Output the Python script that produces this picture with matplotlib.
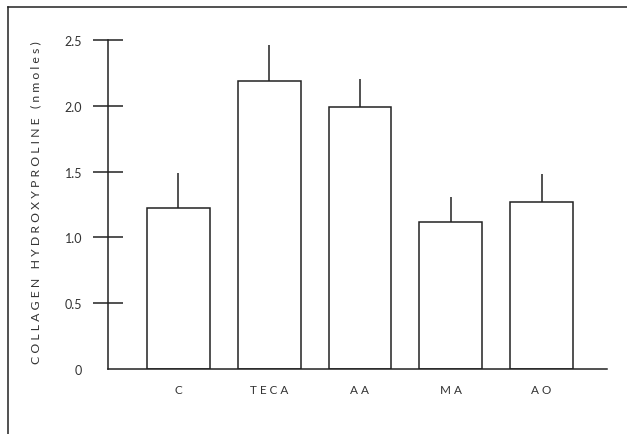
"""Collagen hydroxyproline bar chart with upper error bars."""
import matplotlib

matplotlib.use("Agg")
import matplotlib.pyplot as plt
from matplotlib.lines import Line2D
import numpy as np

groups = ["C", "TECA", "AA", "MA", "AO"]
means = [1.22, 2.19, 1.99, 1.12, 1.27]
errs = [0.27, 0.27, 0.21, 0.19, 0.21]
yticks = [0, 0.5, 1.0, 1.5, 2.0, 2.5]
ytick_labels = ["0", "0.5", "1.0", "1.5", "2.0", "2.5"]

INK = "#222222"
plt.rcParams["font.family"] = ["Lato", "DejaVu Sans"]


def spaced(s):
    return " ".join(s)


fig = plt.figure(figsize=(6.27, 4.35), dpi=100)
ax = fig.add_axes([108 / 627, 1 - 370 / 435, (607 - 108) / 627, (370 - 41) / 435])

x = np.arange(len(groups))
ax.bar(x, means, width=0.69, facecolor="white", edgecolor=INK, linewidth=1.1, zorder=2)
ax.errorbar(x, means, yerr=[np.zeros(len(errs)), errs], fmt="none",
            ecolor=INK, elinewidth=1.1, capsize=0, zorder=1)

ax.set_xlim(-0.775, 4.72)
ax.set_ylim(0, 2.5)
ax.set_yticks(yticks)
ax.set_yticklabels(ytick_labels, fontsize=9, color="#333333")
ax.set_xticks(x)
ax.set_xticklabels([spaced(g) for g in groups], fontsize=8.5, color="#333333")
ax.tick_params(axis="y", direction="inout", length=21, width=1.1, color=INK, pad=8)
ax.tick_params(axis="x", length=0, pad=11)
# no tick mark at zero, only the label
ax.yaxis.get_major_ticks()[0].tick1line.set_visible(False)

for side in ("top", "right"):
    ax.spines[side].set_visible(False)
for side in ("left", "bottom"):
    ax.spines[side].set_color(INK)
    ax.spines[side].set_linewidth(1.1)

ylabel = spaced("COLLAGEN") + "   " + spaced("HYDROXYPROLINE") + "   " + spaced("(nmoles)")
fig.text(36 / 627, 1 - 203 / 435, ylabel, rotation=90, ha="center", va="center",
         fontsize=8.8, color="#333333")

# partial frame around the figure (left and top edges only)
fig.add_artist(Line2D([8 / 627, 8 / 627], [0, 1 - 8 / 435], transform=fig.transFigure,
                      color=INK, lw=1.1))
fig.add_artist(Line2D([8 / 627, 1], [1 - 8 / 435, 1 - 8 / 435], transform=fig.transFigure,
                      color=INK, lw=1.1))

fig.savefig("out.png", dpi=100)
